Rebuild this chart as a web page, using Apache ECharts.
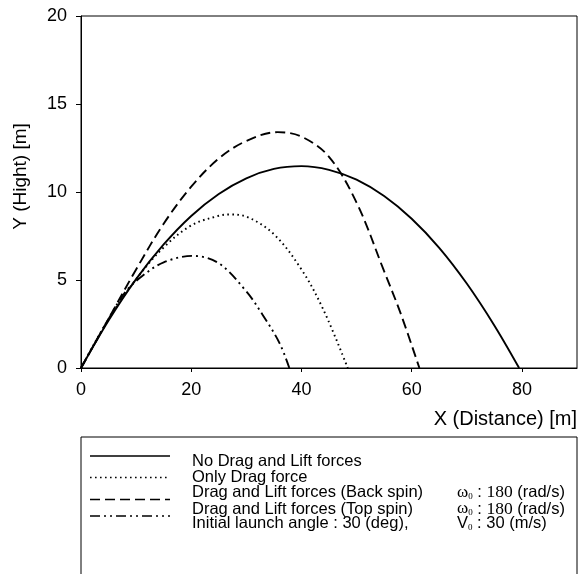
<!DOCTYPE html>
<html><head><meta charset="utf-8">
<script src="https://cdn.jsdelivr.net/npm/echarts@6/dist/echarts.min.js"></script>
<style>html,body{margin:0;padding:0;background:#fff}#c{width:580px;height:574px}</style>
</head><body><div id="c"></div>
<script>
// Tick labels
const xTicks = [0, 20, 40, 60, 80];
const yTicks = [0, 5, 10, 15, 20];

// Series: No Drag and Lift forces
const noLiftX = [0, 5, 10, 15, 20, 25, 30, 35, 40, 45, 50, 55, 60, 65, 70, 75, 79.5];
const noLiftY = [0, 2.7, 5.05, 7.02, 8.64, 9.89, 10.78, 11.31, 11.47, 11.26, 10.7, 9.77, 8.48, 6.83, 4.8, 2.42, 0];
// Only Drag force
const dragX = [0, 5, 10, 15, 20, 25, 27, 30, 35, 40, 44, 48.4];
const dragY = [0, 2.78, 5.05, 6.85, 8.1, 8.65, 8.72, 8.6, 7.6, 5.6, 3.3, 0];
// Drag and Lift forces (Back spin)
const backX = [0, 5, 10, 15, 20, 25, 30, 35.7, 40, 45, 50, 55, 58, 61.4];
const backY = [0, 2.8, 5.6, 8.2, 10.3, 11.9, 12.9, 13.4, 13.15, 12.0, 9.4, 5.5, 3.1, 0];
// Drag and Lift forces (Top spin)
const topX = [0, 5, 8, 11, 15, 20.3, 25, 30, 33, 36, 37.8];
const topY = [0, 2.78, 4.3, 5.2, 6.0, 6.37, 5.95, 4.35, 3.0, 1.43, 0];

const seriesNames = ['No Drag and Lift forces', 'Only Drag force', 'Drag and Lift forces (Back spin)', 'Drag and Lift forces (Top spin)'];
const noteText = 'Initial launch angle : 30 (deg),';

const zip = (xs, ys) => xs.map((x, i) => [x, ys[i]]);
const SANS = '"Liberation Sans", Arial, sans-serif';
const SERIF = '"Liberation Serif", "Times New Roman", serif';

const styles = [
  { type: 'solid', width: 1.9 },
  { type: [1.6, 3.4], width: 1.9 },
  { type: [10, 5], width: 1.9 },
  { type: [10, 4, 2, 4, 2, 4], width: 1.9 }
];
const datasets = [zip(noLiftX, noLiftY), zip(dragX, dragY), zip(backX, backY), zip(topX, topY)];

const chart = echarts.init(document.getElementById('c'), null, { renderer: 'canvas' });

const legendRowsLineY = [456, 477.5, 499.5, 516];
const legendRowsTextY = [461.5, 477.5, 492.5, 509, 523.5];

const graphics = [
  { type: 'rect', shape: { x: 81, y: 437, width: 496, height: 200 }, style: { fill: null, stroke: '#000', lineWidth: 1 } },
  { type: 'text', x: 21, y: 176.5, rotation: Math.PI / 2,
    style: { text: 'Y (Hight) [m]', font: '19px ' + SANS, fill: '#000', align: 'center', verticalAlign: 'middle' } }
];
styles.forEach((s, i) => {
  graphics.push({ type: 'line', shape: { x1: 90, y1: legendRowsLineY[i], x2: 170, y2: legendRowsLineY[i] },
    style: { stroke: '#000', lineWidth: 1.6, lineDash: s.type === 'solid' ? null : s.type } });
  graphics.push({ type: 'text', x: 192, y: legendRowsTextY[i],
    style: { text: seriesNames[i], font: '16.5px ' + SANS, fill: '#000', align: 'left', verticalAlign: 'middle' } });
});
graphics.push({ type: 'text', x: 192, y: legendRowsTextY[4],
  style: { text: noteText, font: '16.5px ' + SANS, fill: '#000', align: 'left', verticalAlign: 'middle' } });

const richStyles = {
  w: { fontFamily: SERIF, fontSize: 17, fill: '#000', verticalAlign: 'middle' },
  ws: { fontFamily: SERIF, fontSize: 9, fill: '#000', padding: [8, 0, 0, 0] },
  n: { fontFamily: SANS, fontSize: 16.5, fill: '#000' },
  s: { fontFamily: SERIF, fontSize: 17.5, fill: '#000' }
};
[2, 3].forEach(r => {
  graphics.push({ type: 'text', x: 457, y: legendRowsTextY[r],
    style: { text: '{w|ω}{ws|0}{n| : }{s|180}{n| (rad/s)}', rich: richStyles, align: 'left', verticalAlign: 'middle', fill: '#000' } });
});
graphics.push({ type: 'text', x: 457, y: legendRowsTextY[4],
  style: { text: '{n|V}{ws|0}{n| : 30 (m/s)}', rich: richStyles, align: 'left', verticalAlign: 'middle', fill: '#000' } });

chart.setOption({
  animation: false,
  backgroundColor: '#fff',
  grid: { left: 81, top: 16, width: 497, height: 352, show: true, borderColor: '#000', borderWidth: 1, containLabel: false },
  xAxis: {
    type: 'value', min: 0, max: 90, interval: 20,
    name: 'X (Distance) [m]', nameLocation: 'end', nameGap: 0,
    nameTextStyle: { fontFamily: SANS, fontSize: 20, color: '#000', align: 'right', verticalAlign: 'top', padding: [41, 0, 0, 0] },
    axisLine: { show: true, lineStyle: { color: '#000', width: 1 } },
    axisTick: { show: true, inside: false, length: 4, lineStyle: { color: '#000' }, customValues: xTicks },
    axisLabel: { color: '#000', fontFamily: SANS, fontSize: 18, margin: 13, customValues: xTicks },
    splitLine: { show: false }
  },
  yAxis: {
    type: 'value', min: 0, max: 20, interval: 5,
    axisLine: { show: true, lineStyle: { color: '#000', width: 1 } },
    axisTick: { show: true, inside: false, length: 5, lineStyle: { color: '#000' }, customValues: yTicks },
    axisLabel: { color: '#000', fontFamily: SANS, fontSize: 18, margin: 14, customValues: yTicks },
    splitLine: { show: false }
  },
  series: datasets.map((d, i) => ({
    name: seriesNames[i], type: 'line', data: d, smooth: 0.35, showSymbol: false, symbol: 'none',
    lineStyle: { color: '#000', width: styles[i].width, type: styles[i].type }
  })),
  graphic: graphics
});
</script></body></html>
